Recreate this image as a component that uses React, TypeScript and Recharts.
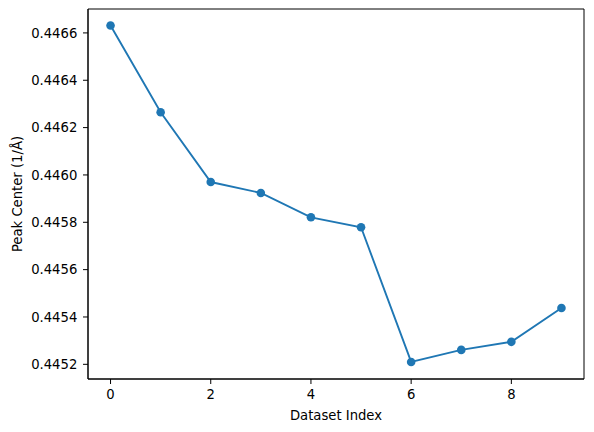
import React from 'react';
import { LineChart, Line, XAxis, YAxis, ReferenceArea } from 'recharts';

const datasetIndex = [0, 1, 2, 3, 4, 5, 6, 7, 8, 9];
const peakCenter = [0.446631, 0.446265, 0.44597, 0.445924, 0.445821, 0.445779, 0.44521, 0.445261, 0.445295, 0.445438];
const xTicks = [0, 2, 4, 6, 8];
const yTicks = [0.4452, 0.4454, 0.4456, 0.4458, 0.446, 0.4462, 0.4464, 0.4466];

const data = datasetIndex.map((x, i) => ({ x, y: peakCenter[i] }));

const X_DOMAIN: [number, number] = [-0.45, 9.45];
const Y_DOMAIN: [number, number] = [0.445138, 0.446701];

const BLUE = '#1f77b4';
const FONT = 'DejaVu Sans, sans-serif';
const FS = 13.2;
const tickStyle = { fontSize: FS, fill: '#000', fontFamily: FONT };

export default function App() {
    return (
        <div style={{ position: 'absolute', left: 0, top: 0, background: '#fff' }}>
            <LineChart width={594} height={432} data={data} margin={{ top: 9, right: 10, bottom: 8, left: 0 }}>
                <XAxis
                    dataKey="x"
                    type="number"
                    domain={X_DOMAIN}
                    ticks={xTicks}
                    height={45}
                    tickSize={5}
                    tickMargin={5.5}
                    tick={tickStyle}
                    tickLine={{ stroke: '#000', strokeWidth: 1 }}
                    axisLine={{ stroke: '#000', strokeWidth: 1 }}
                    label={{ value: 'Dataset Index', position: 'insideBottom', offset: 4, style: { fontSize: FS, fill: '#000', fontFamily: FONT } }}
                />
                <YAxis
                    type="number"
                    domain={Y_DOMAIN}
                    ticks={yTicks}
                    allowDataOverflow
                    width={88}
                    tickSize={5}
                    tickMargin={5.7}
                    tickFormatter={(v: number) => v.toFixed(4)}
                    tick={tickStyle}
                    tickLine={{ stroke: '#000', strokeWidth: 1 }}
                    axisLine={{ stroke: '#000', strokeWidth: 1 }}
                    label={{ value: 'Peak Center (1/Å)', angle: -90, position: 'insideLeft', offset: 17, style: { textAnchor: 'middle', fontSize: FS, fill: '#000', fontFamily: FONT } }}
                />
                {/* frame: top and right spines */}
                <ReferenceArea
                    x1={X_DOMAIN[0]}
                    x2={X_DOMAIN[1]}
                    y1={Y_DOMAIN[0]}
                    y2={Y_DOMAIN[1]}
                    fill="none"
                    fillOpacity={0}
                    stroke="#000"
                    strokeWidth={1}
                    ifOverflow="extendDomain"
                />
                <Line
                    dataKey="y"
                    stroke={BLUE}
                    strokeWidth={1.9}
                    dot={{ r: 4.3, fill: BLUE, stroke: BLUE, strokeWidth: 0 }}
                    activeDot={false}
                    isAnimationActive={false}
                />
            </LineChart>
        </div>
    );
}
